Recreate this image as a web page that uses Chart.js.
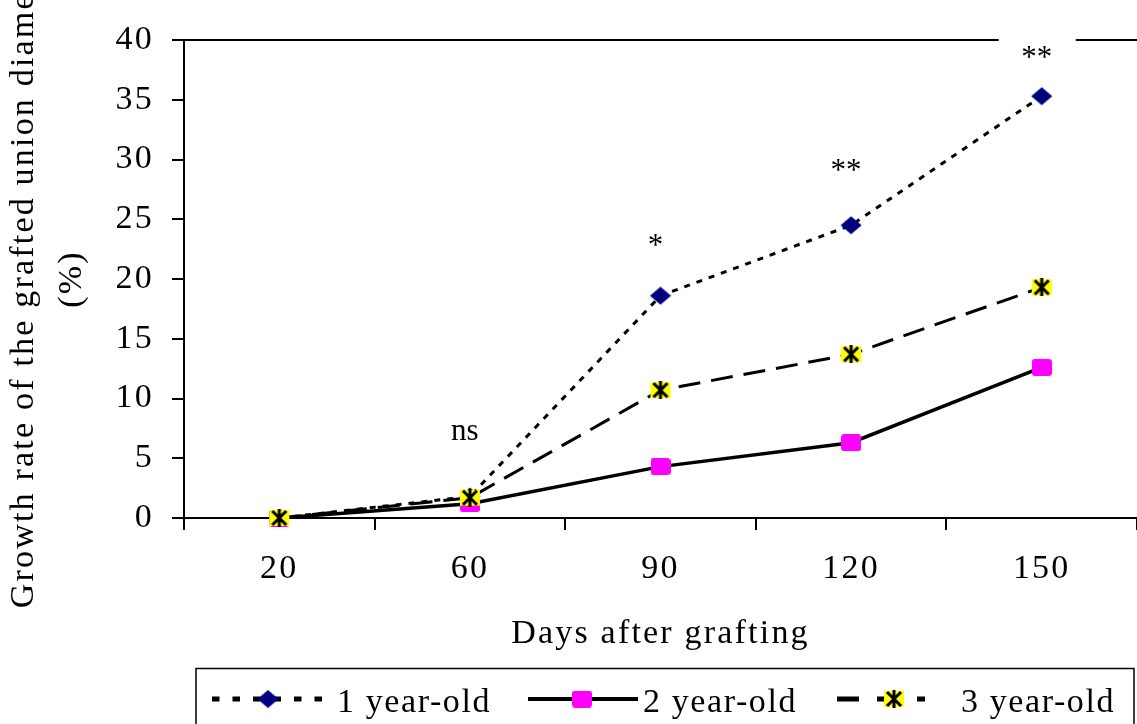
<!DOCTYPE html>
<html lang="en">
<head>
<meta charset="UTF-8">
<title>Growth rate of the grafted union diameter</title>
<script src="https://cdn.jsdelivr.net/npm/chart.js"></script>
<style>
  html, body { margin: 0; padding: 0; background: #fff; }
  canvas { display: block; }
</style>
</head>
<body>
<canvas id="growthChart" width="1137" height="724"></canvas>
<script>
// days after grafting and growth rate (%) per rootstock age
const days = ['20', '60', '90', '120', '150'];
const oneYear = [0, 1.8, 18.6, 24.5, 35.3];
const twoYear = [0, 1.2, 4.3, 6.3, 12.6];
const threeYear = [0, 1.7, 10.7, 13.7, 19.3];
const seriesNames = ['1 year-old', '2 year-old', '3 year-old'];

// significance marks above each sampling day, and the height (in %) they sit at
const sigMarks = ['', 'ns', '*', '**', '**'];
const sigLevels = [null, 7.2, 22.7, 29, 38.4];

const FONT = "'Times New Roman', 'Liberation Serif', serif";
const SPACING = '2.2px';

// marker images
function makeMarker(w, h, paint) {
  const c = document.createElement('canvas');
  c.width = w; c.height = h;
  paint(c.getContext('2d'), w, h);
  return c;
}
const diamond = makeMarker(22, 19, (g, w, h) => {
  g.fillStyle = '#000080';
  g.beginPath();
  g.moveTo(w / 2, 0.5);
  g.lineTo(w - 0.5, h / 2);
  g.lineTo(w / 2, h - 0.5);
  g.lineTo(0.5, h / 2);
  g.closePath();
  g.fill();
});
const square = makeMarker(20, 17, (g, w, h) => {
  g.fillStyle = '#ff00ff';
  g.beginPath();
  g.roundRect(0, 0, w, h, 3);
  g.fill();
});
const star = makeMarker(22, 18, (g, w, h) => {
  g.fillStyle = '#ffff00';
  g.fillRect(1, 1, w - 2, h - 2);
  g.strokeStyle = '#000';
  g.lineWidth = 3;
  g.beginPath();
  g.moveTo(4, 2); g.lineTo(w - 4, h - 2);
  g.moveTo(w - 4, 2); g.lineTo(4, h - 2);
  g.moveTo(w / 2, 0); g.lineTo(w / 2, h);
  g.stroke();
});

const spacingPlugin = {
  id: 'spacing',
  beforeLayout(chart) { chart.ctx.letterSpacing = SPACING; },
  beforeDraw(chart) { chart.ctx.letterSpacing = SPACING; }
};

// top frame line, and significance marks on white boxes
const framePlugin = {
  id: 'frame',
  beforeDatasetsDraw(chart) {
    const { ctx, chartArea } = chart;
    ctx.save();
    ctx.strokeStyle = '#000';
    ctx.lineWidth = 2;
    ctx.beginPath();
    ctx.moveTo(chartArea.left, chartArea.top);
    ctx.lineTo(chartArea.right, chartArea.top);
    ctx.stroke();
    ctx.restore();
  },
  afterDatasetsDraw(chart) {
    const { ctx } = chart;
    const x = chart.scales.x, y = chart.scales.y;
    ctx.save();
    ctx.font = '31px ' + FONT;
    ctx.letterSpacing = '0px';
    ctx.textAlign = 'center';
    ctx.textBaseline = 'middle';
    sigMarks.forEach((m, i) => {
      if (!m) return;
      const px = x.getPixelForValue(i) - 5;
      const py = y.getPixelForValue(sigLevels[i]);
      ctx.fillStyle = '#fff';
      ctx.fillRect(px - 38, py - 22, 77, 44);
      ctx.fillStyle = '#000';
      ctx.fillText(m, px, py);
    });
    ctx.restore();
  }
};

// legend box with line samples
const legendPlugin = {
  id: 'boxLegend',
  afterDraw(chart) {
    const ctx = chart.ctx;
    const ly = 699;
    ctx.save();
    ctx.strokeStyle = '#000';
    ctx.lineWidth = 1.5;
    ctx.strokeRect(196, 668.5, 938, 100);

    const items = [
      { x0: 212, x1: 328, dash: [7.5, 13], width: 5, marker: diamond, mx: 268, tx: 337 },
      { x0: 528, x1: 638, dash: [], width: 4, marker: square, mx: 582, tx: 643 },
      { x0: 837, x1: 925, dash: [22, 18], width: 5, marker: star, mx: 894, tx: 961 }
    ];
    items.forEach((it, i) => {
      ctx.setLineDash(it.dash);
      ctx.lineWidth = it.width;
      ctx.lineCap = 'butt';
      ctx.beginPath();
      ctx.moveTo(it.x0, ly);
      ctx.lineTo(it.x1, ly);
      ctx.stroke();
      ctx.setLineDash([]);
      ctx.drawImage(it.marker, it.mx - it.marker.width / 2, ly - it.marker.height / 2);
      ctx.font = '34px ' + FONT;
      ctx.letterSpacing = '1.6px';
      ctx.fillStyle = '#000';
      ctx.textAlign = 'left';
      ctx.textBaseline = 'alphabetic';
      ctx.fillText(seriesNames[i], it.tx, 712);
    });
    ctx.restore();
  }
};

const tickFont = { family: FONT, size: 34 };

new Chart(document.getElementById('growthChart'), {
  type: 'line',
  data: {
    labels: days,
    datasets: [
      {
        label: seriesNames[0], data: oneYear, order: 2,
        borderColor: '#000', borderWidth: 3, borderDash: [6, 7],
        pointStyle: diamond, pointRadius: 10, clip: false
      },
      {
        label: seriesNames[1], data: twoYear, order: 1,
        borderColor: '#000', borderWidth: 3.5,
        pointStyle: square, pointRadius: 10, clip: false
      },
      {
        label: seriesNames[2], data: threeYear, order: 0,
        borderColor: '#000', borderWidth: 3, borderDash: [22, 11],
        pointStyle: star, pointRadius: 10, clip: false
      }
    ]
  },
  options: {
    responsive: false,
    animation: false,
    events: [],
    layout: {
      autoPadding: false,
      padding: { top: 40, right: 0, bottom: 60, left: 0 }
    },
    plugins: {
      legend: { display: false },
      tooltip: { enabled: false }
    },
    scales: {
      x: {
        offset: true,
        afterFit(scale) {
          scale.height = 146;
          scale.paddingLeft = 0;
          scale.paddingRight = 0;
        },
        grid: {
          offset: true, drawOnChartArea: false, color: '#000',
          lineWidth: 2, tickLength: 12
        },
        border: { color: '#000', width: 2 },
        ticks: { color: '#000', font: tickFont, padding: 19, maxRotation: 0 },
        title: {
          display: true, text: 'Days after grafting', color: '#000',
          font: { family: FONT, size: 34 }, padding: { top: 0, bottom: 10 }
        }
      },
      y: {
        min: 0, max: 40,
        afterFit(scale) { scale.width = 184; },
        grid: { drawOnChartArea: false, color: '#000', lineWidth: 2, tickLength: 12 },
        border: { color: '#000', width: 2 },
        ticks: { stepSize: 5, color: '#000', font: tickFont, padding: 18 },
        title: {
          display: true,
          text: ['Growth rate of the grafted union diameter', '(%)'],
          color: '#000',
          font: { family: FONT, size: 34, lineHeight: 1.42 },
          padding: { top: 0, bottom: 0 }
        }
      }
    }
  },
  plugins: [spacingPlugin, framePlugin, legendPlugin]
});
</script>
</body>
</html>
